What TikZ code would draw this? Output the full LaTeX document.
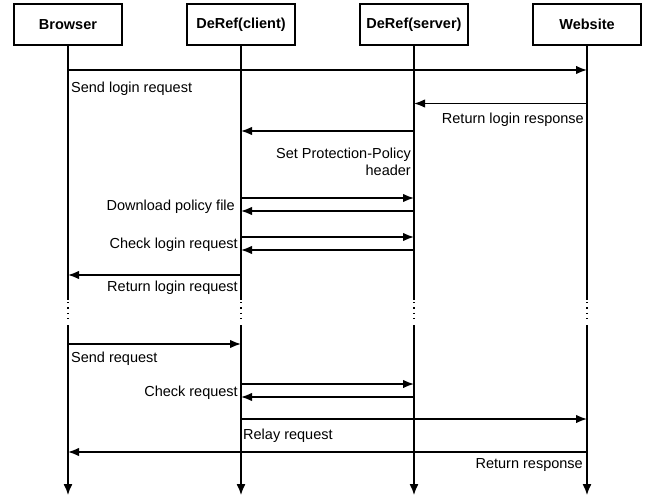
\documentclass[tikz,border=0pt]{standalone}
\usepackage{fontspec}
\setmainfont{Liberation Sans}
\usetikzlibrary{arrows.meta}
\begin{document}
\begin{tikzpicture}[x=1pt,y=-1pt,
  actor/.style={draw,line width=2.4pt,minimum width=108pt,minimum height=41pt,
    inner sep=0pt,font=\fontsize{14.5}{17}\selectfont\bfseries},
  life/.style={line width=1.3pt},
  lifeend/.style={line width=1.3pt,-{Latex[length=11pt,width=9pt]}},
  msg/.style={line width=1.5pt,-{Latex[length=11pt,width=8.5pt]}},
  lbl/.style={inner sep=0pt,font=\fontsize{14.5}{17.5}\selectfont},
  dotline/.style={line width=1.2pt,dash pattern=on 1.2pt off 4.2pt}]
\useasboundingbox (0,0) rectangle (651,500);

% participants
\node[actor] (br) at (68,24.5)  {Browser};
\node[actor] (cl) at (241,24.5) {DeRef(client)};
\node[actor] (sv) at (414,24.5) {DeRef(server)};
\node[actor] (ws) at (587,24.5) {Website};

% lifeline breakpoints
\foreach \n/\x in {br/68,cl/241,sv/414,ws/587}{
  \coordinate (\n a) at (\x,300);
  \coordinate (\n b) at (\x,302);
  \coordinate (\n c) at (\x,322);
  \coordinate (\n d) at (\x,325);
  \coordinate (\n e) at (\x,495);
  \draw[life] (\n.south) -- (\n a);
  \draw[dotline] (\n b) -- (\n c);
  \draw[lifeend] (\n d) -- (\n e);
}

% message anchors on the lifelines
\foreach \n/\x in {br/68,cl/241,sv/414,ws/587}{
  \foreach \k/\y in {1/70,2/103.5,3/131,4/198,5/211,6/237,7/250,8/275,
                     9/344,10/384,11/397,12/419,13/452}{
    \coordinate (\n\k) at (\x,\y);
  }
}

% login phase
\draw[msg] (br1) -- (ws1);
\node[lbl,anchor=west] (t1) at (71,88.5) {Send login request};
\draw[msg] (ws2) -- (sv2);
\node[lbl,anchor=east] (t2) at (584,119.5) {Return login response};
\draw[msg] (sv3) -- (cl3);
\node[lbl,anchor=east,align=right] (t3) at (411,162) {Set Protection-Policy\\header};
\draw[msg] (cl4) -- (sv4);
\draw[msg] (sv5) -- (cl5);
\node[lbl,anchor=east] (t4) at (235,206.5) {Download policy file};
\draw[msg] (cl6) -- (sv6);
\draw[msg] (sv7) -- (cl7);
\node[lbl,anchor=east] (t5) at (238,244.5) {Check login request};
\draw[msg] (cl8) -- (br8);
\node[lbl,anchor=east] (t6) at (238,288) {Return login request};

% request phase
\draw[msg] (br9) -- (cl9);
\node[lbl,anchor=west] (t7) at (71,359) {Send request};
\draw[msg] (cl10) -- (sv10);
\draw[msg] (sv11) -- (cl11);
\node[lbl,anchor=east] (t8) at (238,392.5) {Check request};
\draw[msg] (cl12) -- (ws12);
\node[lbl,anchor=west] (t9) at (243,435.5) {Relay request};
\draw[msg] (ws13) -- (br13);
\node[lbl,anchor=east] (t10) at (583,465.5) {Return response};
\end{tikzpicture}
\end{document}
